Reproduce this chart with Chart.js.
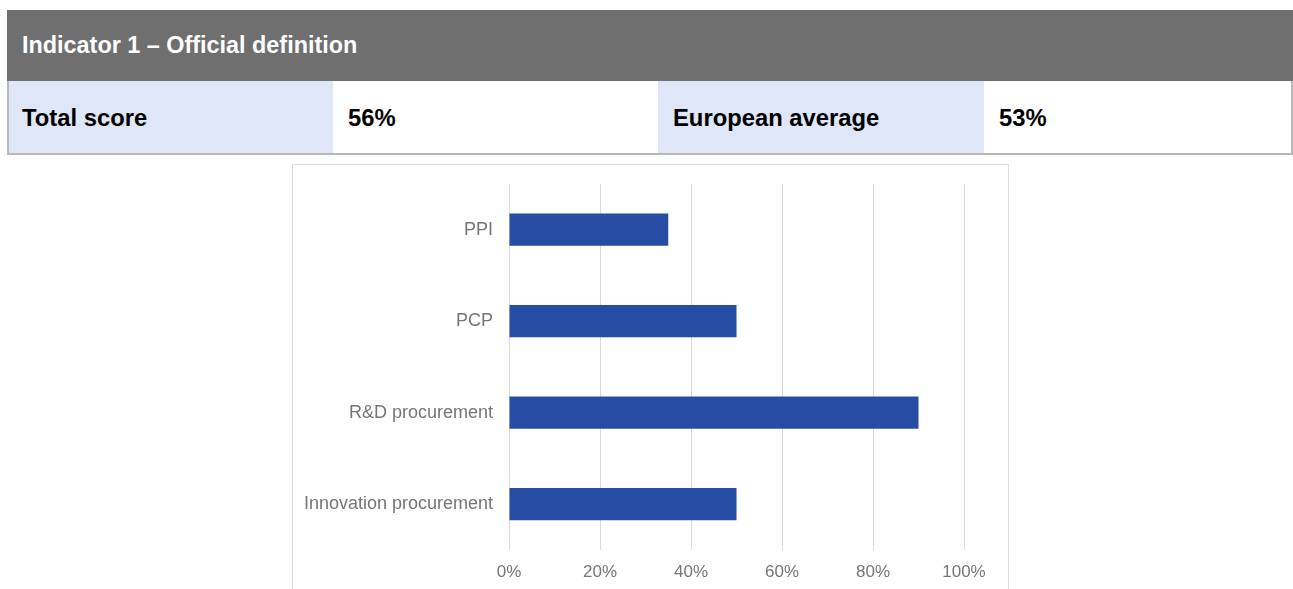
<!DOCTYPE html>
<html>
<head>
<meta charset="utf-8">
<script src="https://cdn.jsdelivr.net/npm/chart.js@4/dist/chart.umd.min.js"></script>
<style>
  body { margin: 0; background: #fff; font-family: "Liberation Sans", Arial, sans-serif; }
  .header {
    position: absolute; left: 7px; top: 10px; width: 1286px; height: 71px;
    background: #6f6f6f; color: #fff; font-weight: bold; font-size: 23.4px;
    line-height: 71px; padding-left: 15px; box-sizing: border-box;
  }
  .row {
    position: absolute; left: 7px; top: 81px; width: 1286px; height: 74px;
    box-sizing: border-box; border-left: 2px solid #b8b8b8; border-right: 2px solid #b8b8b8;
    border-bottom: 2px solid #b8b8b8; display: flex;
  }
  .cell {
    height: 72px; line-height: 73px; font-weight: bold; font-size: 23.8px;
    color: #000; padding-left: 15px; box-sizing: border-box;
  }
  .cell:first-child { padding-left: 13px; }
  .label { background: #dfe6f7; }
  .box {
    position: absolute; left: 292px; top: 164px; width: 717px; height: 440px;
    border: 1px solid #dcdcdc; box-sizing: border-box;
  }
</style>
</head>
<body>
<div class="header" id="title"></div>
<div class="row" id="scores"></div>
<div class="box"><canvas id="indicatorChart"></canvas></div>
<script>
const title = "Indicator 1 – Official definition";
const scoreLabels = ["Total score", "European average"];
const scoreValues = ["56%", "53%"];

const categories = ["PPI", "PCP", "R&D procurement", "Innovation procurement"];
const shares = [0.35, 0.50, 0.90, 0.50];
const tickValues = [0, 0.2, 0.4, 0.6, 0.8, 1];

document.getElementById("title").textContent = title;

// score strip: label cell, value cell, label cell, value cell
const scores = document.getElementById("scores");
const cellWidths = [[324, 325], [326, 307]];
scoreLabels.forEach((label, i) => {
  const l = document.createElement("div");
  l.className = "cell label";
  l.style.width = cellWidths[i][0] + "px";
  l.textContent = label;
  const v = document.createElement("div");
  v.className = "cell";
  v.style.width = cellWidths[i][1] + "px";
  v.textContent = scoreValues[i];
  scores.appendChild(l);
  scores.appendChild(v);
});

const canvas = document.getElementById("indicatorChart");
canvas.width = 715;
canvas.height = 425;
canvas.style.width = "715px";
canvas.style.height = "425px";

Chart.defaults.font.family = '"Liberation Sans", Arial, sans-serif';

new Chart(canvas.getContext("2d"), {
  type: "bar",
  data: {
    labels: categories,
    datasets: [{
      data: shares,
      backgroundColor: "#264ca4",
      barPercentage: 0.352,
      categoryPercentage: 1,
    }],
  },
  options: {
    indexAxis: "y",
    responsive: false,
    animation: false,
    layout: { padding: { top: 18, right: 44, left: 0, bottom: 0 } },
    plugins: { legend: { display: false }, tooltip: { enabled: false } },
    scales: {
      x: {
        min: 0,
        max: 1,
        afterBuildTicks: (axis) => {
          axis.ticks = tickValues.map((v) => ({ value: v }));
        },
        afterFit: (axis) => { axis.height = 40; },
        ticks: {
          color: "#757575",
          font: { size: 17 },
          padding: 12,
          callback: (v) => Math.round(v * 100) + "%",
        },
        grid: { color: "#d9d9d9", lineWidth: 1, drawTicks: false },
        border: { display: false },
      },
      y: {
        afterFit: (axis) => { axis.width = 216; },
        ticks: { color: "#757575", font: { size: 18 }, padding: 8 },
        grid: { display: false },
        border: { display: false },
      },
    },
  },
});
</script>
</body>
</html>
